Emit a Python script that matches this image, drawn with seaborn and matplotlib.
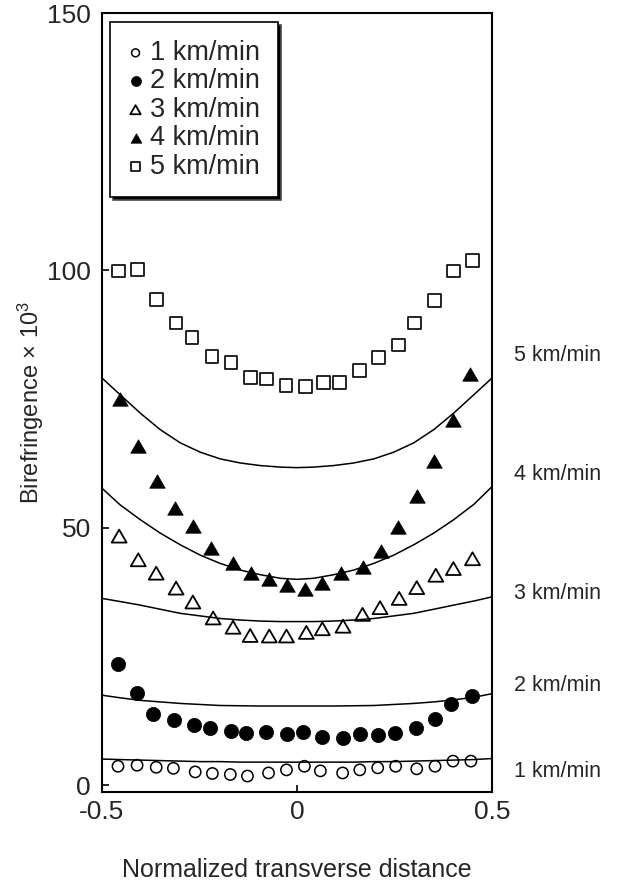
import numpy as np
import pandas as pd
import matplotlib
matplotlib.use("Agg")
import matplotlib.pyplot as plt
from matplotlib.path import Path
import seaborn as sns

speeds = ["1 km/min", "2 km/min", "3 km/min", "4 km/min", "5 km/min"]

# measured points
x1 = [-0.459, -0.410, -0.361, -0.317, -0.261, -0.217, -0.171, -0.127, -0.073, -0.027,
      0.019, 0.060, 0.117, 0.161, 0.207, 0.253, 0.307, 0.354, 0.400, 0.446]
y1 = [3.7, 3.9, 3.5, 3.3, 2.6, 2.3, 2.1, 1.8, 2.4, 3.0,
      3.7, 2.8, 2.4, 3.0, 3.4, 3.7, 3.2, 3.7, 4.7, 4.7]

x2 = [-0.458, -0.409, -0.368, -0.315, -0.263, -0.222, -0.169, -0.131, -0.079, -0.025,
      0.016, 0.065, 0.119, 0.161, 0.208, 0.251, 0.305, 0.355, 0.395, 0.448]
y2 = [23.5, 18.0, 13.9, 12.6, 11.8, 11.2, 10.5, 10.1, 10.3, 10.0,
      10.3, 9.4, 9.2, 10.0, 9.7, 10.2, 11.1, 12.9, 15.7, 17.3]

x3 = [-0.456, -0.407, -0.361, -0.310, -0.267, -0.215, -0.164, -0.120, -0.071, -0.027,
      0.024, 0.065, 0.118, 0.168, 0.213, 0.262, 0.307, 0.356, 0.401, 0.450]
y3 = [48.4, 43.8, 41.2, 38.3, 35.6, 32.5, 30.7, 29.1, 29.0, 29.0,
      29.7, 30.4, 30.9, 33.2, 34.5, 36.3, 38.4, 40.8, 42.1, 44.0]

x4 = [-0.454, -0.407, -0.359, -0.312, -0.267, -0.220, -0.164, -0.118, -0.071, -0.025,
      0.020, 0.065, 0.112, 0.168, 0.215, 0.260, 0.307, 0.352, 0.399, 0.444]
y4 = [75.1, 65.9, 59.1, 53.9, 50.4, 46.0, 43.2, 41.2, 40.0, 39.0,
      38.2, 39.3, 41.3, 42.4, 45.5, 50.1, 56.1, 63.0, 70.9, 79.8]

x5 = [-0.458, -0.409, -0.361, -0.310, -0.269, -0.218, -0.169, -0.120, -0.079, -0.028,
      0.022, 0.069, 0.110, 0.161, 0.210, 0.260, 0.302, 0.352, 0.402, 0.450]
y5 = [99.9, 100.2, 94.4, 89.8, 87.0, 83.3, 82.1, 79.2, 78.9, 77.6,
      77.4, 78.2, 78.3, 80.6, 83.1, 85.5, 89.8, 94.2, 99.9, 101.9]

# model curves
line_x = [-0.5, -0.454, -0.402, -0.351, -0.299, -0.248, -0.197, -0.145, -0.094, -0.042, 0.0,
          0.042, 0.094, 0.145, 0.197, 0.248, 0.299, 0.351, 0.402, 0.454, 0.5]
line1 = [5.1, 5.0, 4.9, 4.8, 4.7, 4.6, 4.6, 4.5, 4.5, 4.5, 4.5,
         4.5, 4.5, 4.5, 4.6, 4.6, 4.7, 4.8, 4.9, 5.0, 5.2]
line2 = [17.5, 17.0, 16.5, 16.2, 15.9, 15.7, 15.5, 15.45, 15.4, 15.4, 15.4,
         15.4, 15.4, 15.45, 15.5, 15.7, 15.9, 16.2, 16.6, 17.1, 17.8]
line3 = [36.3, 35.7, 35.0, 34.2, 33.4, 32.9, 32.4, 32.1, 31.9, 31.8, 31.8,
         31.8, 31.9, 32.1, 32.4, 32.9, 33.4, 34.2, 35.0, 35.8, 36.6]
line4 = [57.7, 54.5, 51.6, 49.0, 46.7, 44.7, 43.1, 41.8, 40.9, 40.2, 40.0,
         40.2, 40.9, 41.8, 43.1, 44.7, 46.7, 49.0, 51.6, 54.6, 58.0]
line5 = [79.1, 75.9, 72.3, 69.1, 66.5, 64.7, 63.4, 62.6, 62.1, 61.8, 61.7,
         61.8, 62.1, 62.6, 63.4, 64.7, 66.5, 69.1, 72.3, 75.9, 79.1]

curve_label_y = [2.7, 19.4, 37.3, 60.4, 83.5]

xticks = [-0.5, 0, 0.5]
xticklabels = ["-0.5", "0", "0.5"]
yticks = [0, 50, 100, 150]

sns.set_theme(style="ticks")
plt.rcParams['font.family'] = ['Liberation Sans', 'DejaVu Sans']
plt.rcParams['mathtext.fontset'] = 'custom'
plt.rcParams['mathtext.rm'] = 'Liberation Sans'
plt.rcParams['mathtext.it'] = 'Liberation Sans:italic'

fig = plt.figure(figsize=(6.21, 8.90), dpi=100)
ax = fig.add_axes([0.16425, 0.11011, 0.6280, 0.87528])

for ly in [line1, line2, line3, line4, line5]:
    sns.lineplot(x=line_x, y=ly, color="black", linewidth=1.1, ax=ax, legend=False)

tri = Path([(-1, -0.866), (1, -0.866), (0, 0.866), (-1, -0.866)],
           [Path.MOVETO, Path.LINETO, Path.LINETO, Path.CLOSEPOLY])
series = [
    (x1, y1, "o", 66, "none", 1.1),
    (x2, y2, "o", 105, "black", 0.5),
    (x3, y3, tri, 115, "none", 1.3),
    (x4, y4, tri, 125, "black", 0.5),
    (x5, y5, "s", 85, "none", 1.2),
]
for (sx, sy, mk, sz, fc, lw), lab in zip(series, speeds):
    df = pd.DataFrame({"x": sx, "y": sy})
    sns.scatterplot(data=df, x="x", y="y", marker=mk, s=sz, facecolor=fc,
                    edgecolor="black", linewidth=lw, label=lab, ax=ax, zorder=3)

ax.set_xlim(-0.5, 0.5)
ax.set_ylim(-1.3, 150)
ax.set_xticks(xticks)
ax.set_xticklabels(xticklabels)
ax.set_yticks(yticks)
ax.tick_params(direction="in", length=5, width=1.2, labelsize=19, color="black")
ax.tick_params(axis="y", pad=8)
ax.tick_params(axis="x", pad=6)
for sp in ax.spines.values():
    sp.set_visible(True)
    sp.set_linewidth(1.5)
    sp.set_color("black")

ax.set_xlabel("Normalized transverse distance", fontsize=18, labelpad=24)
ax.set_ylabel(r"Birefringence $\times$ 10$^3$", fontsize=17, labelpad=1)

for yv, lab in zip(curve_label_y, speeds):
    ax.text(0.557, yv, lab, fontsize=15.5, ha="left", va="center", clip_on=False)

handles, labels = ax.get_legend_handles_labels()
leg = ax.legend(handles, labels, loc="upper left", bbox_to_anchor=(0.02, 0.988),
                borderaxespad=0, frameon=True, fancybox=False, framealpha=1,
                edgecolor="black", shadow={"facecolor": "black", "alpha": 1},
                markerscale=0.7, handlelength=0.6, handletextpad=0.25,
                labelspacing=0.09, borderpad=0.65, fontsize=19.5)
leg.get_frame().set_linewidth(1.2)

fig.savefig("out.png", dpi=100)
